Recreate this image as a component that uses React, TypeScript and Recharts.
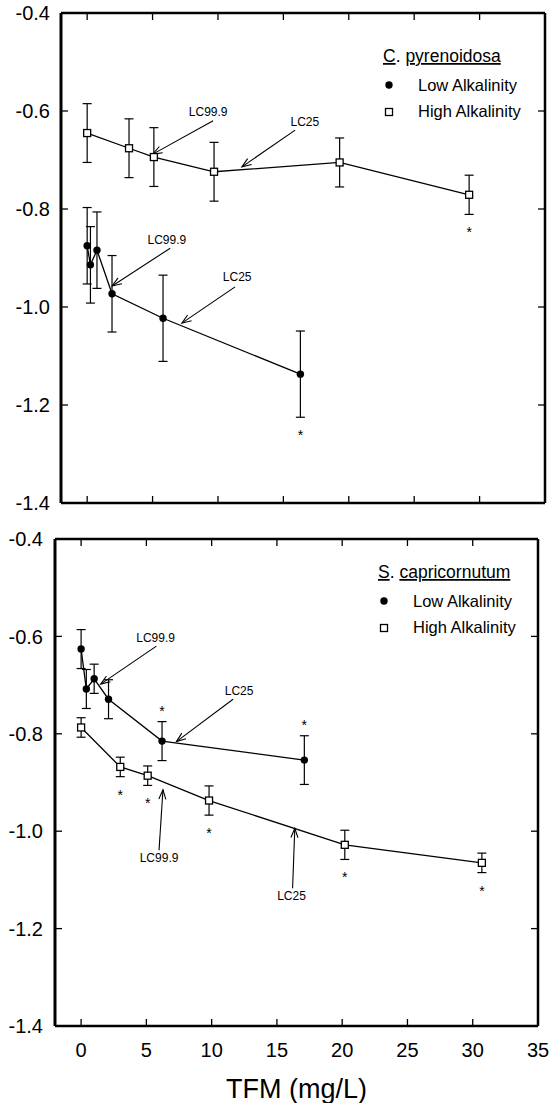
import { LineChart, Line, XAxis, YAxis, ErrorBar, ReferenceLine, ReferenceDot } from 'recharts'

const FONT = '"Liberation Sans", Arial, Helvetica, sans-serif'

const xTicks = [0, 5, 10, 15, 20, 25, 30, 35]
const yTicks = [-1.4, -1.2, -1.0, -0.8, -0.6, -0.4]

// C. pyrenoidosa
const cpLowX = [0, 0.25, 0.75, 1.9, 5.8, 16.3]
const cpLowY = [-0.875, -0.914, -0.884, -0.973, -1.023, -1.137]
const cpLowErr = [0.078, 0.078, 0.078, 0.078, 0.088, 0.088]
const cpLowStar = ['', '', '', '', '', 'below']
const cpHighX = [0, 3.2, 5.1, 9.7, 19.3, 29.2]
const cpHighY = [-0.645, -0.676, -0.694, -0.724, -0.705, -0.771]
const cpHighErr = [0.06, 0.06, 0.06, 0.06, 0.05, 0.04]
const cpHighStar = ['', '', '', '', '', 'below']

// S. capricornutum
const scLowX = [0, 0.4, 1.0, 2.1, 6.2, 17.1]
const scLowY = [-0.626, -0.708, -0.687, -0.729, -0.815, -0.854]
const scLowErr = [0.04, 0.04, 0.03, 0.04, 0.04, 0.05]
const scLowStar = ['', '', '', '', 'above', 'above']
const scHighX = [0, 3.0, 5.1, 9.8, 20.2, 30.7]
const scHighY = [-0.787, -0.868, -0.886, -0.937, -1.028, -1.065]
const scHighErr = [0.02, 0.02, 0.02, 0.03, 0.03, 0.02]
const scHighStar = ['', 'below', 'below', 'below', 'below', 'below']

// arrow notes, in data units: label at (tx, ty), arrow from (x1, y1) to (x2, y2)
type Note = { text: string; tx: number; ty: number; x1: number; y1: number; x2: number; y2: number }
const cpNotes: Note[] = [
  { text: 'LC99.9', tx: 9.25, ty: -0.602, x1: 9.63, y1: -0.62, x2: 5.02, y2: -0.688 },
  { text: 'LC25', tx: 16.64, ty: -0.622, x1: 15.9, y1: -0.639, x2: 11.83, y2: -0.714 },
  { text: 'LC99.9', tx: 6.09, ty: -0.863, x1: 6.35, y1: -0.88, x2: 1.91, y2: -0.957 },
  { text: 'LC25', tx: 11.47, ty: -0.938, x1: 11.31, y1: -0.959, x2: 7.24, y2: -1.033 },
]
const scNotes: Note[] = [
  { text: 'LC99.9', tx: 5.71, ty: -0.604, x1: 5.77, y1: -0.62, x2: 1.5, y2: -0.698 },
  { text: 'LC25', tx: 12.1, ty: -0.712, x1: 11.64, y1: -0.729, x2: 7.3, y2: -0.816 },
  { text: 'LC99.9', tx: 5.97, ty: -1.056, x1: 5.97, y1: -1.039, x2: 6.27, y2: -0.915 },
  { text: 'LC25', tx: 16.12, ty: -1.134, x1: 16.2, y1: -1.117, x2: 16.37, y2: -0.994 },
]

type Row = { x: number; y: number; err: number; star: string }
const rows = (xs: number[], ys: number[], es: number[], st: string[]): Row[] =>
  xs.map((x, i) => ({ x, y: ys[i], err: es[i], star: st[i] }))

const CircleDot = (p: any) => {
  if (p.cx == null || p.cy == null) return <g key={`c${p.index}`} />
  return <circle key={`c${p.index}`} cx={p.cx} cy={p.cy} r={3.7} fill="#000" />
}

const SquareDot = (p: any) => {
  if (p.cx == null || p.cy == null) return <g key={`s${p.index}`} />
  return <rect key={`s${p.index}`} x={p.cx - 3.5} y={p.cy - 3.5} width={7} height={7} fill="#fff" stroke="#000" strokeWidth={1.3} />
}

const Arrow = (p: any) => {
  const { x1, y1, x2, y2 } = p
  const a = Math.atan2(y2 - y1, x2 - x1)
  const L = 10
  const s = 0.36
  const ax = x2 - L * Math.cos(a - s)
  const ay = y2 - L * Math.sin(a - s)
  const bx = x2 - L * Math.cos(a + s)
  const by = y2 - L * Math.sin(a + s)
  return (
    <g>
      <line x1={x1} y1={y1} x2={x2} y2={y2} stroke="#000" strokeWidth={1.1} />
      <polyline points={`${ax},${ay} ${x2},${y2} ${bx},${by}`} fill="none" stroke="#000" strokeWidth={1.1} />
    </g>
  )
}

// inward tick marks on both ends of a reference line spanning the plot
const TICK = 7
const tickLn = { stroke: '#000', strokeWidth: 1.3 }
const YTicks = (p: any) => {
  const l = Math.min(p.x1, p.x2)
  const r = Math.max(p.x1, p.x2)
  return (
    <g>
      <line x1={l} y1={p.y1} x2={l + TICK} y2={p.y1} {...tickLn} />
      <line x1={r - TICK} y1={p.y1} x2={r} y2={p.y1} {...tickLn} />
    </g>
  )
}
const XTicks = (p: any) => {
  const t = Math.min(p.y1, p.y2)
  const b = Math.max(p.y1, p.y2)
  return (
    <g>
      <line x1={p.x1} y1={t} x2={p.x1} y2={t + TICK} {...tickLn} />
      <line x1={p.x1} y1={b - TICK} x2={p.x1} y2={b} {...tickLn} />
    </g>
  )
}

const tickText = { fill: '#000', fontSize: 20, fontFamily: FONT }
const yLabel = (gap: number) => (p: any) => (
  <text x={p.x - gap} y={p.y + 7.2} textAnchor="end" {...tickText}>{(p.payload.value as number).toFixed(1)}</text>
)
const xLabel = (p: any) => (
  <text x={p.x} y={p.y + 31} textAnchor="middle" {...tickText}>{p.payload.value}</text>
)
const noTick = () => <g />

interface PanelProps {
  low: Row[]
  high: Row[]
  notes: Note[]
  height: number
  leftW: number
  rightW: number
  topH: number
  bottomH: number
  yGap: number
  xLabels?: boolean
}

function Panel({ low, high, notes, height, leftW, rightW, topH, bottomH, yGap, xLabels }: PanelProps) {
  const starred = [...low, ...high].filter(r => r.star)
  return (
    <LineChart width={551} height={height} margin={{ top: 0, right: 0, bottom: 0, left: 0 }}>
      <XAxis
        type="number"
        dataKey="x"
        domain={[-2, 35]}
        ticks={xTicks}
        interval={0}
        allowDataOverflow
        height={bottomH}
        axisLine={{ stroke: '#000', strokeWidth: 2.5 }}
        tickLine={false}
        tickSize={0}
        tickMargin={0}
        tick={xLabels ? xLabel : noTick}
        label={xLabels ? { value: 'TFM (mg/L)', position: 'insideBottom', offset: 5, fontSize: 27, fill: '#000', fontFamily: FONT } : undefined}
      />
      <XAxis
        xAxisId="t"
        orientation="top"
        type="number"
        domain={[-2, 35]}
        ticks={xTicks}
        allowDataOverflow
        height={topH}
        axisLine={{ stroke: '#000', strokeWidth: 2.5 }}
        tickLine={false}
        tick={noTick}
      />
      <YAxis
        type="number"
        domain={[-1.4, -0.4]}
        ticks={yTicks}
        interval={0}
        allowDataOverflow
        width={leftW}
        axisLine={{ stroke: '#000', strokeWidth: 3 }}
        tickLine={false}
        tickSize={0}
        tickMargin={0}
        tick={yLabel(yGap)}
      />
      <YAxis
        yAxisId="r"
        orientation="right"
        type="number"
        domain={[-1.4, -0.4]}
        ticks={yTicks}
        allowDataOverflow
        width={rightW}
        axisLine={{ stroke: '#000', strokeWidth: 2.5 }}
        tickLine={false}
        tick={noTick}
      />
      {yTicks.slice(1, -1).map(t => (
        <ReferenceLine key={`yt${t}`} y={t} shape={YTicks} />
      ))}
      {xTicks.map(t => (
        <ReferenceLine key={`xt${t}`} x={t} shape={XTicks} />
      ))}
      <Line data={low} dataKey="y" stroke="#000" strokeWidth={1.3} dot={CircleDot} activeDot={false} isAnimationActive={false}>
        <ErrorBar dataKey="err" direction="y" width={4.5} stroke="#000" strokeWidth={1.2} />
      </Line>
      <Line data={high} dataKey="y" stroke="#000" strokeWidth={1.3} dot={SquareDot} activeDot={false} isAnimationActive={false}>
        <ErrorBar dataKey="err" direction="y" width={4.5} stroke="#000" strokeWidth={1.2} />
      </Line>
      {notes.map((n, i) => (
        <ReferenceLine key={`a${i}`} segment={[{ x: n.x1, y: n.y1 }, { x: n.x2, y: n.y2 }]} shape={Arrow} />
      ))}
      {notes.map((n, i) => (
        <ReferenceDot
          key={`t${i}`}
          x={n.tx}
          y={n.ty}
          r={0}
          shape={(p: any) => (
            <text x={p.cx} y={p.cy + 4} textAnchor="middle" fontSize={12} fontFamily={FONT} fill="#000">
              {n.text}
            </text>
          )}
        />
      ))}
      {starred.map((r, i) => (
        <ReferenceDot
          key={`s${i}`}
          x={r.x}
          y={r.star === 'above' ? r.y + r.err : r.y - r.err}
          r={0}
          shape={(p: any) => (
            <text x={p.cx} y={p.cy + (r.star === 'above' ? -14 : 15) + 8} textAnchor="middle" fontSize={14} fontFamily={FONT} fill="#000">
              *
            </text>
          )}
        />
      ))}
    </LineChart>
  )
}

function LegendBox({ x, y, species, rest }: { x: number; y: number; species: string; rest: string }) {
  const t = { fontFamily: FONT, fill: '#000' }
  return (
    <g>
      <text x={x} y={y} fontSize={17.5} {...t}>
        <tspan textDecoration="underline">{species}</tspan>
        <tspan>. </tspan>
        <tspan textDecoration="underline">{rest}</tspan>
      </text>
      <circle cx={x + 6} cy={y + 23} r={3.7} fill="#000" />
      <text x={x + 35} y={y + 29} fontSize={16.5} {...t}>Low Alkalinity</text>
      <rect x={x + 2.5} y={y + 46.5} width={7} height={7} fill="#fff" stroke="#000" strokeWidth={1.3} />
      <text x={x + 35} y={y + 55} fontSize={16.5} {...t}>High Alkalinity</text>
    </g>
  )
}

export default function App() {
  return (
    <div style={{ position: 'absolute', left: 0, top: 0, width: 551, height: 1103, background: '#fff' }}>
      <div style={{ position: 'absolute', left: 0, top: 0 }}>
        <Panel
          low={rows(cpLowX, cpLowY, cpLowErr, cpLowStar)}
          high={rows(cpHighX, cpHighY, cpHighErr, cpHighStar)}
          notes={cpNotes}
          height={520}
          leftW={61}
          rightW={6}
          topH={13}
          bottomH={17}
          yGap={11}
        />
      </div>
      <div style={{ position: 'absolute', left: 0, top: 520 }}>
        <Panel
          low={rows(scLowX, scLowY, scLowErr, scLowStar)}
          high={rows(scHighX, scHighY, scHighErr, scHighStar)}
          notes={scNotes}
          height={583}
          leftW={55}
          rightW={13}
          topH={19}
          bottomH={77}
          yGap={12}
          xLabels
        />
      </div>
      <svg width={551} height={1103} style={{ position: 'absolute', left: 0, top: 0, pointerEvents: 'none' }}>
        <LegendBox x={383} y={62} species="C" rest="pyrenoidosa" />
        <LegendBox x={378} y={578} species="S" rest="capricornutum" />
      </svg>
    </div>
  )
}
